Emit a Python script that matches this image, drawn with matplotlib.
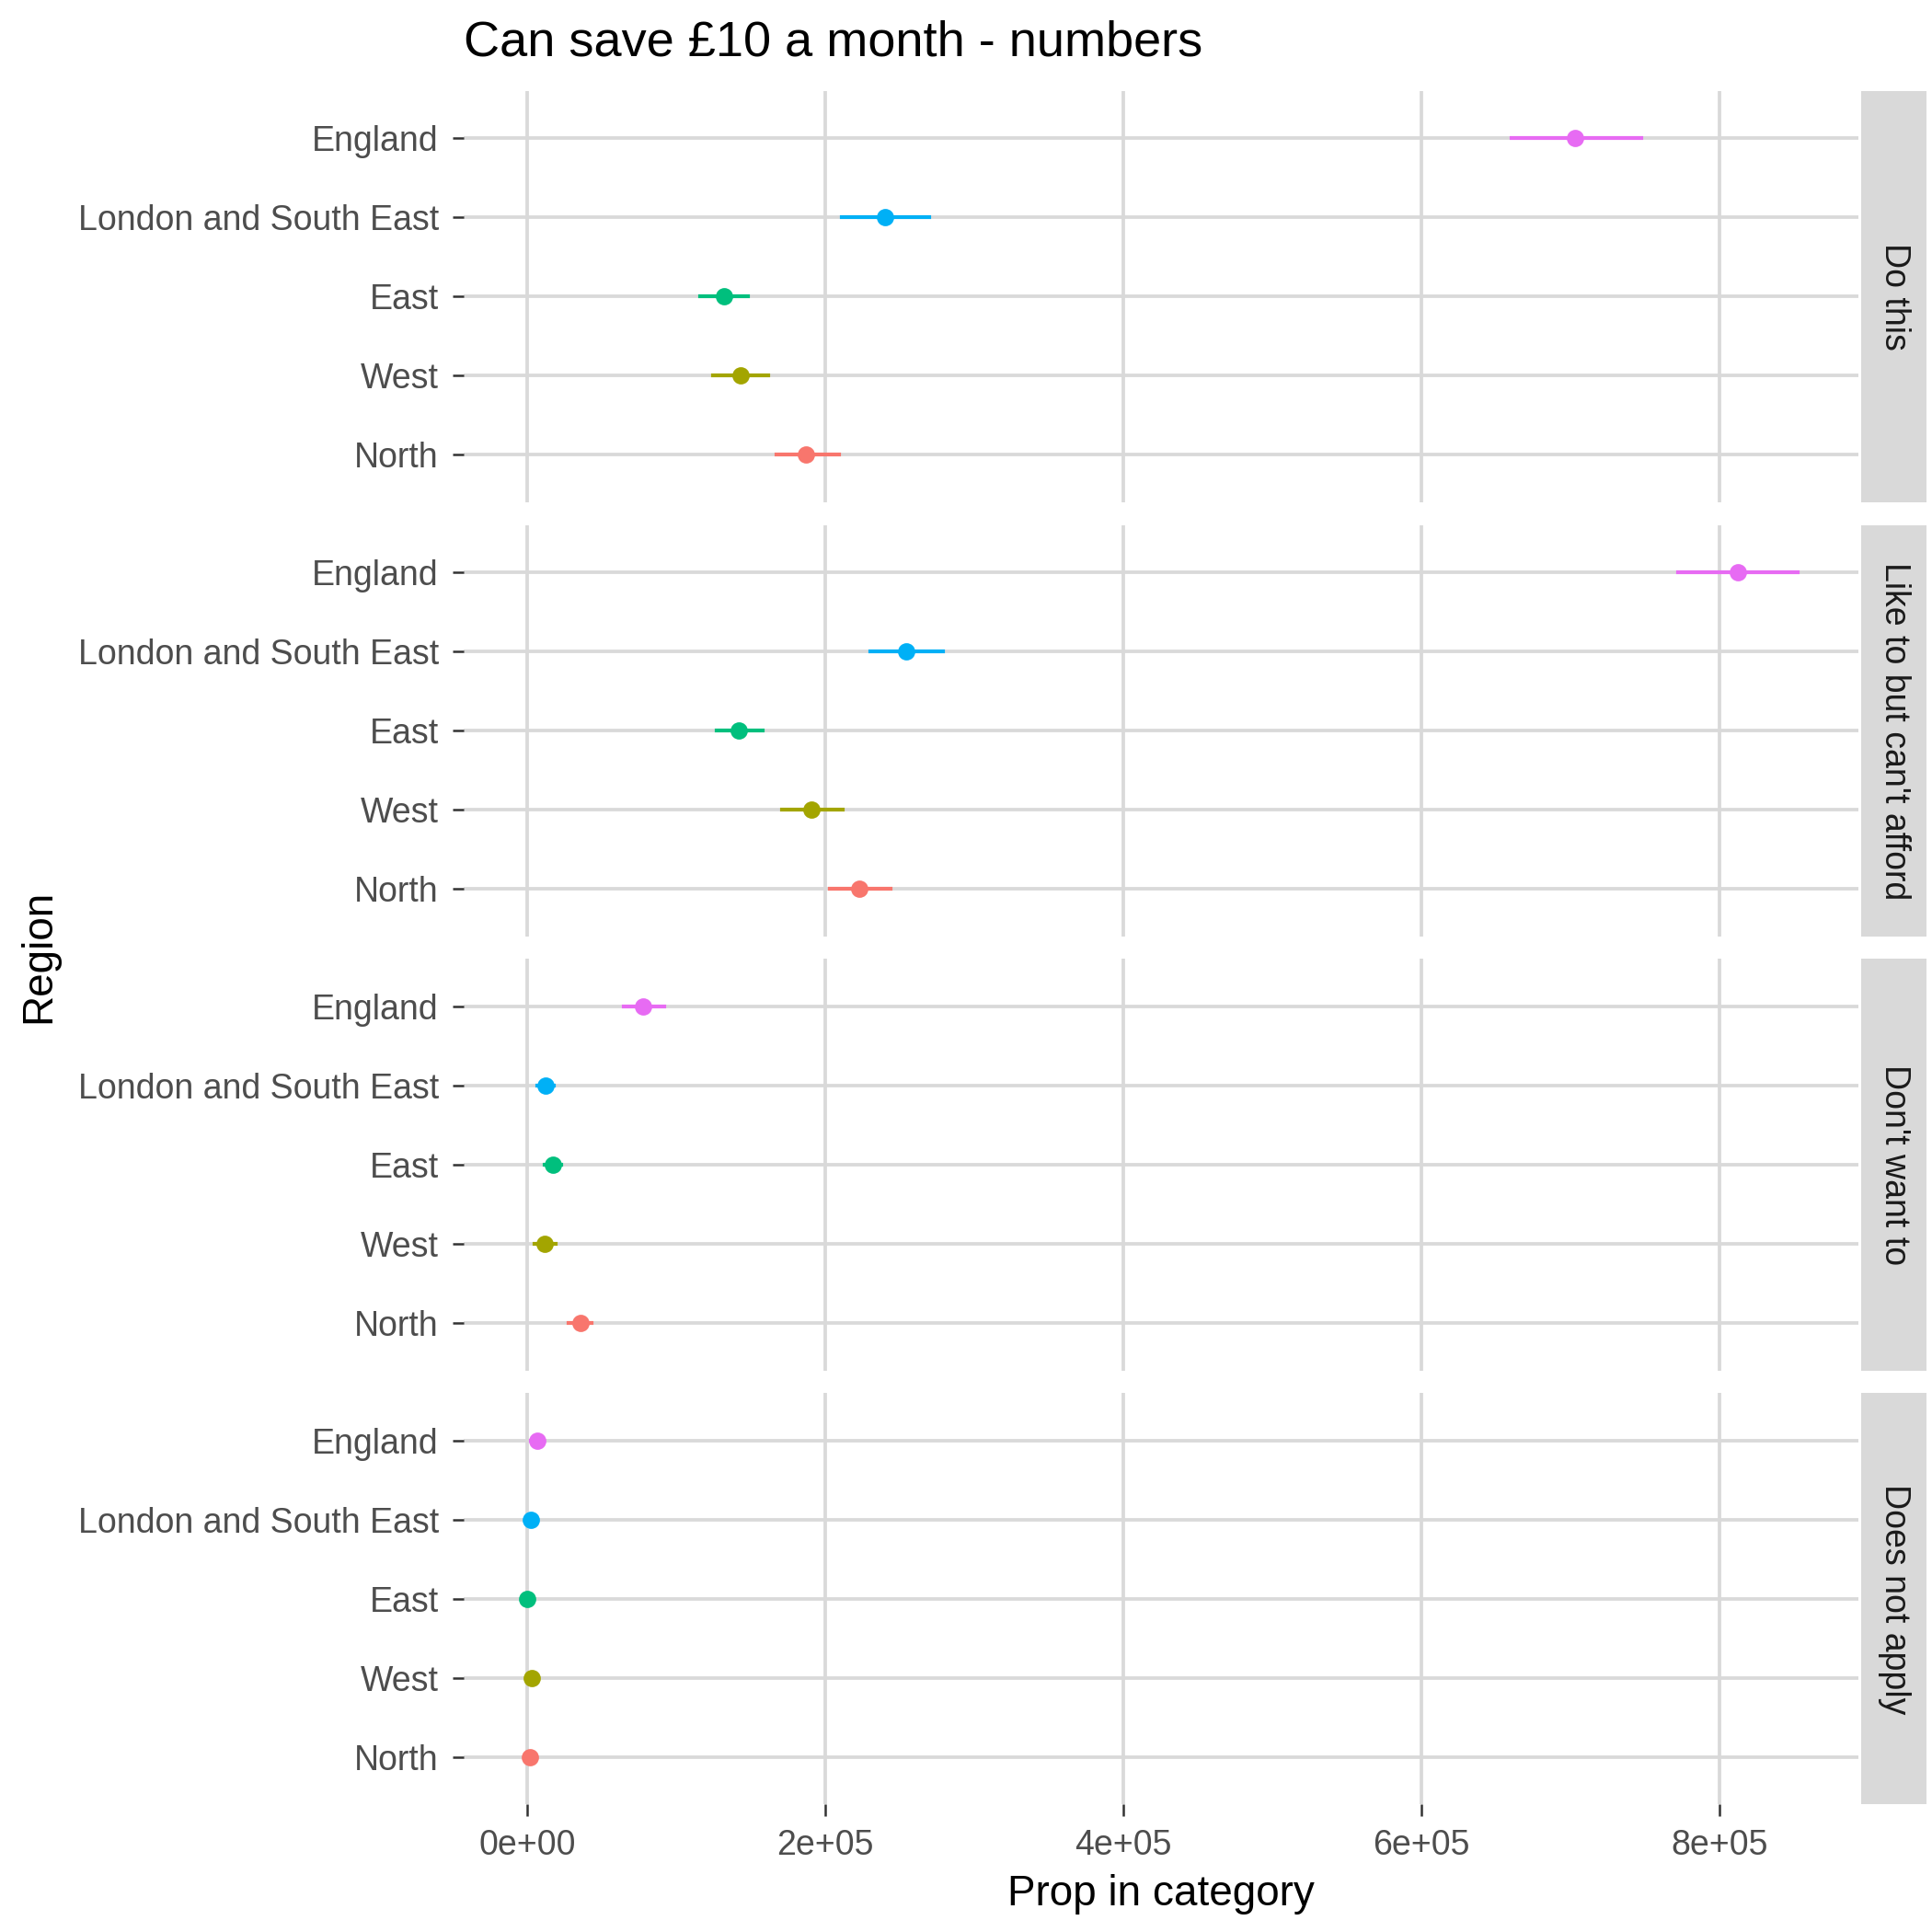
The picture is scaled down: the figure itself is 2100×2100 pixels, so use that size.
import matplotlib
matplotlib.use("Agg")
import matplotlib.pyplot as plt

plt.rcParams['font.family'] = ['Liberation Sans', 'DejaVu Sans']

regions = ["North", "West", "East", "London and South East", "England"]
colors = ["#F8766D", "#A3A500", "#00BF7D", "#00B0F6", "#E76BF3"]
panels = ["Do this", "Like to but can't afford", "Don't want to", "Does not apply"]

est = [
    [187000, 143000, 132000, 240000, 703000],
    [223000, 191000, 142000, 254000, 812000],
    [36000, 12000, 17500, 12500, 78000],
    [2000, 3000, 0, 2500, 7000],
]
low = [
    [167000, 125000, 116000, 211000, 660000],
    [203000, 171000, 127000, 230000, 772000],
    [28000, 5000, 12000, 7000, 65000],
    [0, 500, -1000, 0, 2500],
]
high = [
    [209000, 162000, 148000, 270000, 747000],
    [244000, 212000, 158000, 279000, 852000],
    [43000, 19000, 23000, 18000, 92000],
    [4000, 5000, 1000, 5000, 11000],
]
xticks = [0, 200000, 400000, 600000, 800000]
xticklabels = ["0e+00", "2e+05", "4e+05", "6e+05", "8e+05"]

fig = plt.figure(figsize=(7, 7), dpi=300)
gs = fig.add_gridspec(4, 1, left=0.240, right=0.962, top=0.953, bottom=0.066, hspace=0.055)
grid_c = "#D9D9D9"
for i, name in enumerate(panels):
    ax = fig.add_subplot(gs[i])
    ax.set_facecolor("white")
    for x in xticks:
        ax.axvline(x, color=grid_c, lw=0.9, zorder=0)
    for j in range(len(regions)):
        ax.axhline(j, color=grid_c, lw=0.9, zorder=0)
        ax.plot([low[i][j], high[i][j]], [j, j], color=colors[j], lw=1.0, zorder=2)
        ax.plot(est[i][j], j, 'o', color=colors[j], ms=3.5, zorder=3)
    ax.set_xlim(-42500, 893000)
    ax.set_ylim(-0.6, 4.6)
    ax.set_yticks(range(len(regions)))
    ax.set_yticklabels(regions, fontsize=9, color="#4D4D4D")
    ax.set_xticks(xticks)
    ax.tick_params(color="#333333", length=3, width=0.6)
    if i == 3:
        ax.set_xticklabels(xticklabels, fontsize=9, color="#4D4D4D")
    else:
        ax.set_xticklabels([])
        ax.tick_params(axis='x', length=0)
    for s in ax.spines.values():
        s.set_visible(False)
    strip = ax.inset_axes([1.002, 0, 0.047, 1])
    strip.set_facecolor("#D9D9D9")
    strip.set_xticks([]); strip.set_yticks([])
    for s in strip.spines.values():
        s.set_visible(False)
    strip.text(0.5, 0.5, name, rotation=-90, ha='center', va='center', fontsize=9, color="#1A1A1A", transform=strip.transAxes)
    if i == 3:
        ax.set_xlabel("Prop in category", fontsize=11, color="black", labelpad=3)

fig.text(0.02, 0.505, "Region", rotation=90, ha='center', va='center', fontsize=11)
fig.text(0.24, 0.978, "Can save £10 a month - numbers", ha='left', va='center', fontsize=13)
fig.savefig("out.png", dpi=300, facecolor="white")
